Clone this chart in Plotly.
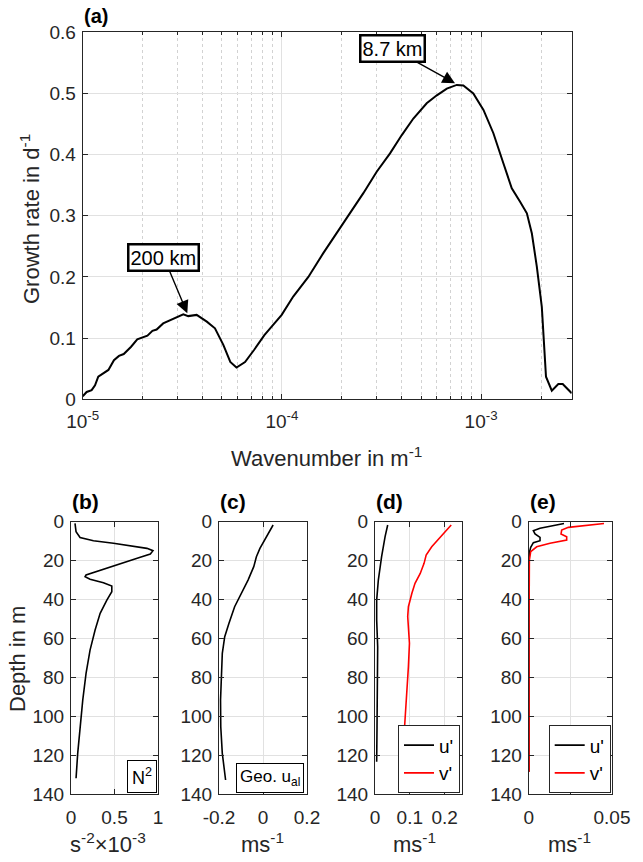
import math
import plotly.graph_objects as go

# ---------------- data ----------------
# (a) growth rate vs wavenumber
wavenumber = [1.000e-5, 1.047e-5, 1.109e-5, 1.153e-5, 1.197e-5, 1.268e-5, 1.346e-5, 1.435e-5,
              1.521e-5, 1.607e-5, 1.750e-5, 1.879e-5, 2.018e-5, 2.113e-5, 2.239e-5, 2.350e-5,
              2.535e-5, 2.812e-5, 2.965e-5, 3.199e-5, 3.388e-5, 3.733e-5, 4.198e-5, 4.613e-5,
              5.082e-5, 5.508e-5, 5.916e-5, 6.531e-5, 7.261e-5, 8.166e-5, 8.730e-5, 9.977e-5,
              1.140e-4, 1.358e-4, 1.614e-4, 1.959e-4, 2.198e-4, 2.564e-4, 2.992e-4, 3.491e-4,
              3.999e-4, 4.571e-4, 5.333e-4, 5.998e-4, 6.730e-4, 7.551e-4, 8.147e-4, 9.141e-4,
              1.028e-3, 1.153e-3, 1.294e-3, 1.426e-3, 1.570e-3, 1.698e-3, 1.799e-3, 1.905e-3,
              2.018e-3, 2.070e-3, 2.118e-3, 2.265e-3, 2.443e-3, 2.570e-3, 2.851e-3]
growth_rate = [0.005, 0.012, 0.015, 0.023, 0.037, 0.042, 0.048, 0.064,
               0.071, 0.074, 0.086, 0.098, 0.101, 0.104, 0.112, 0.114,
               0.124, 0.131, 0.134, 0.139, 0.136, 0.138, 0.127, 0.116,
               0.089, 0.061, 0.052, 0.061, 0.081, 0.105, 0.116, 0.138,
               0.168, 0.200, 0.239, 0.280, 0.304, 0.337, 0.372, 0.402,
               0.432, 0.459, 0.484, 0.497, 0.508, 0.514, 0.513, 0.500,
               0.473, 0.435, 0.386, 0.345, 0.323, 0.304, 0.271, 0.217,
               0.151, 0.097, 0.037, 0.014, 0.025, 0.025, 0.010]
peak_labels = ["200 km", "8.7 km"]
peak_k = [3.35e-5, 7.40e-4]
peak_g = [0.1406, 0.5166]
x_ticks_a = [1e-5, 1e-4, 1e-3]
x_ticktext_a = ["10<sup>-5</sup>", "10<sup>-4</sup>", "10<sup>-3</sup>"]

# (b) N^2 profile
n2_depth = [0.9, 5.1, 8.1, 9.8, 11.1, 12.5, 13.7, 14.9, 16.6, 18.3, 20.6, 23.5, 25.7, 27.4,
            28.3, 29.6, 31.4, 33.1, 36.0, 40.3, 47.1, 55.7, 66.0, 78.0, 91.7, 105.4, 119.1, 131.9]
n2_value = [0.046, 0.058, 0.104, 0.258, 0.488, 0.719, 0.873, 0.942, 0.912, 0.796, 0.642, 0.450,
            0.296, 0.173, 0.162, 0.219, 0.373, 0.469, 0.469, 0.412, 0.335, 0.277, 0.219, 0.173,
            0.135, 0.104, 0.077, 0.058]

# (c) geostrophic along-front velocity
geo_depth = [1.7, 5.1, 9.4, 13.7, 18.0, 23.1, 30.0, 36.8, 43.7, 52.3, 59.1, 67.7, 79.7, 91.7,
             105.4, 119.1, 132.8]
geo_u = [0.046, 0.028, 0.008, -0.014, -0.030, -0.042, -0.068, -0.098, -0.129, -0.155, -0.174,
         -0.185, -0.190, -0.193, -0.192, -0.185, -0.170]

# (d) perturbation velocities, first mode
d_u_depth = [1.7, 7.7, 18.0, 30.0, 40.3, 50.5, 64.3, 78.0, 91.7, 105.4, 123.4]
d_u = [0.0365, 0.029, 0.019, 0.0096, 0.0048, 0.0048, 0.0077, 0.0077, 0.0067, 0.0058, 0.0048]
d_v_depth = [1.7, 5.1, 8.6, 12.9, 17.1, 21.4, 26.6, 31.7, 36.8, 43.7, 48.8, 55.7, 62.5, 74.5,
             88.2, 105.4, 115.7, 123.4]
d_v = [0.219, 0.202, 0.183, 0.163, 0.147, 0.141, 0.130, 0.115, 0.106, 0.096, 0.094, 0.096,
       0.099, 0.096, 0.091, 0.085, 0.079, 0.074]

# (e) perturbation velocities, second mode
e_u_depth = [0.9, 2.1, 3.4, 4.6, 6.3, 8.1, 9.8, 10.8, 13.2, 15.9, 20.0, 60.0, 128.5]
e_u = [0.0212, 0.0148, 0.0068, 0.0028, 0.0038, 0.0068, 0.0068, 0.0028, 0.0012, 0.0004, 0.0002,
       0.0002, 0.0002]
e_v_depth = [0.9, 1.7, 2.9, 4.3, 6.3, 7.7, 9.4, 11.1, 12.9, 15.4, 19.7, 54.0, 128.5]
e_v = [0.0452, 0.0348, 0.0238, 0.0198, 0.0194, 0.0228, 0.0228, 0.0128, 0.0048, 0.0012, 0.0004,
       0.0002, 0.0002]

depth_ticks = [0, 20, 40, 60, 80, 100, 120, 140]

# ---------------- figure ----------------
W, H = 643, 862
FONT = "Liberation Sans, Arial, Helvetica, sans-serif"
AX = "#262626"
GRID = "#e1e1e1"


def fx(p):
    return p / W


def fy(p):
    return 1 - p / H


fig = go.Figure()

fig.add_trace(go.Scatter(x=wavenumber, y=growth_rate, mode="lines",
                         line=dict(color="black", width=2), showlegend=False,
                         xaxis="x", yaxis="y"))
fig.add_trace(go.Scatter(x=n2_value, y=n2_depth, mode="lines",
                         line=dict(color="black", width=1.6), showlegend=False,
                         xaxis="x2", yaxis="y2"))
fig.add_trace(go.Scatter(x=geo_u, y=geo_depth, mode="lines",
                         line=dict(color="black", width=1.6), showlegend=False,
                         xaxis="x3", yaxis="y3"))
fig.add_trace(go.Scatter(x=d_u, y=d_u_depth, mode="lines", name="u'",
                         line=dict(color="black", width=1.6), legend="legend",
                         xaxis="x4", yaxis="y4"))
fig.add_trace(go.Scatter(x=d_v, y=d_v_depth, mode="lines", name="v'",
                         line=dict(color="red", width=1.6), legend="legend",
                         xaxis="x4", yaxis="y4"))
fig.add_trace(go.Scatter(x=e_u, y=e_u_depth, mode="lines", name="u'",
                         line=dict(color="black", width=1.6), legend="legend2",
                         xaxis="x5", yaxis="y5"))
fig.add_trace(go.Scatter(x=e_v, y=e_v_depth, mode="lines", name="v'",
                         line=dict(color="red", width=1.6), legend="legend2",
                         xaxis="x5", yaxis="y5"))

common = dict(showline=True, linecolor=AX, linewidth=1, mirror="ticks", ticks="inside",
              ticklen=5, tickcolor=AX, showgrid=True, gridcolor=GRID, gridwidth=1,
              zeroline=False, tickfont=dict(family=FONT, size=19, color=AX),
              fixedrange=True, automargin=False)

# panel (a)
fig.update_layout(
    xaxis=dict(domain=[fx(82.7), fx(571.7)], type="log",
               range=[math.log10(wavenumber[0]), math.log10(wavenumber[-1])],
               tickvals=x_ticks_a, ticktext=x_ticktext_a, anchor="y",
               minor=dict(dtick="D1", ticks="inside", ticklen=3, tickcolor=AX,
                          showgrid=True, gridcolor="#d2d2d2", griddash="dot", gridwidth=1),
               ticklabelstandoff=5, **common),
    yaxis=dict(domain=[fy(399.3), fy(32.3)], range=[0, 0.6], dtick=0.1, anchor="x",
               ticklabelstandoff=2, **common),
)

bottom = [(71, 158), (219, 307), (375, 462), (528.7, 612)]
xranges = [[0, 1], [-0.2, 0.2], [0, 0.25], [0, 0.05]]
xtickvals = [[0, 0.5, 1], [-0.2, 0, 0.2], [0, 0.1, 0.2], [0, 0.025, 0.05]]
xticktexts = [["0", "0.5", "1"], ["-0.2", "0", "0.2"], ["0", "0.1", "0.2"], ["0", "", "0.05"]]
for i, (l, r) in enumerate(bottom):
    n = i + 2
    fig.layout[f"xaxis{n}"] = dict(domain=[fx(l), fx(r)], range=xranges[i],
                                   tickvals=xtickvals[i], ticktext=xticktexts[i],
                                   anchor=f"y{n}", ticklabelstandoff=6, **common)
    fig.layout[f"yaxis{n}"] = dict(domain=[fy(794), fy(521.7)], range=[140, 0],
                                   tickvals=depth_ticks, anchor=f"x{n}",
                                   ticklabelstandoff=2, **common)

ann = []
# panel letters
for lab, l, bot, sz in [("(a)", 82.7, 29.0, 20), ("(b)", 71, 515.0, 21), ("(c)", 219, 515.0, 21),
                        ("(d)", 375, 515.0, 21), ("(e)", 528.7, 515.0, 21)]:
    ann.append(dict(text=f"<b>{lab}</b>", x=fx(l - 1), y=fy(bot), xref="paper",
                    yref="paper", xanchor="left", yanchor="bottom", showarrow=False,
                    font=dict(family=FONT, size=sz, color="black")))

# axis titles
lab_font = dict(family=FONT, size=22, color=AX)
ann.append(dict(text="Wavenumber in m<sup>-1</sup>", x=fx(326), y=fy(457), xref="paper",
                yref="paper", xanchor="center", yanchor="middle", showarrow=False,
                font=lab_font))
ann.append(dict(text="Growth rate in d<sup>-1</sup>", x=fx(30), y=fy(219), xref="paper",
                yref="paper", xanchor="center", yanchor="middle", showarrow=False,
                textangle=-90, font=lab_font))
ann.append(dict(text="Depth in m", x=fx(17), y=fy(659), xref="paper", yref="paper",
                xanchor="center", yanchor="middle", showarrow=False, textangle=-90,
                font=lab_font))
for txt, cx in [("s<sup>-2</sup>\u00d710<sup>-3</sup>", 108), ("ms<sup>-1</sup>", 262),
                ("ms<sup>-1</sup>", 415), ("ms<sup>-1</sup>", 569)]:
    ann.append(dict(text=txt, x=fx(cx), y=fy(843), xref="paper", yref="paper",
                    xanchor="center", yanchor="middle", showarrow=False, font=lab_font))

# legend boxes of (b) and (c)
box_font = dict(family=FONT, size=18, color="black")
ann.append(dict(text="N<sup>2</sup>", x=fx(156.7), y=fy(793.3), xref="paper", yref="paper",
                xanchor="right", yanchor="bottom", showarrow=False, font=box_font,
                bgcolor="white", bordercolor="black", borderwidth=1, borderpad=4))
ann.append(dict(text="Geo. u<sub>al</sub>", x=fx(304), y=fy(793.3), xref="paper",
                yref="paper", xanchor="right", yanchor="bottom", showarrow=False,
                font=dict(family=FONT, size=17, color="black"), bgcolor="white",
                bordercolor="black", borderwidth=1, borderpad=3))

# peak callouts
offsets = [(-23.5, -56.1), (-62.5, -34.6)]
for lab, k, g, (axp, ayp) in zip(peak_labels, peak_k, peak_g, offsets):
    ann.append(dict(text=lab, x=math.log10(k), y=g, xref="x", yref="y", ax=axp, ay=ayp,
                    showarrow=True, arrowhead=2, arrowsize=1.8, arrowwidth=1.4,
                    arrowcolor="black", font=dict(family=FONT, size=20, color="black"),
                    bgcolor="white", bordercolor="black", borderwidth=2.5, borderpad=1))

leg_common = dict(bgcolor="white", bordercolor=AX, borderwidth=1,
                  font=dict(family=FONT, size=19, color="black"), itemwidth=30,
                  xanchor="right", yanchor="bottom", tracegroupgap=0)
fig.update_layout(
    legend=dict(x=fx(460), y=fy(793.3), **leg_common),
    legend2=dict(x=fx(610.7), y=fy(793.3), **leg_common),
    annotations=ann,
    width=W, height=H, margin=dict(l=0, r=0, t=0, b=0, pad=0, autoexpand=False),
    paper_bgcolor="white", plot_bgcolor="white",
    font=dict(family=FONT, color=AX),
)

fig.write_html("out.html", config={"displayModeBar": False},
               post_script="document.body.style.margin='0px'; document.body.style.overflow='hidden';")
